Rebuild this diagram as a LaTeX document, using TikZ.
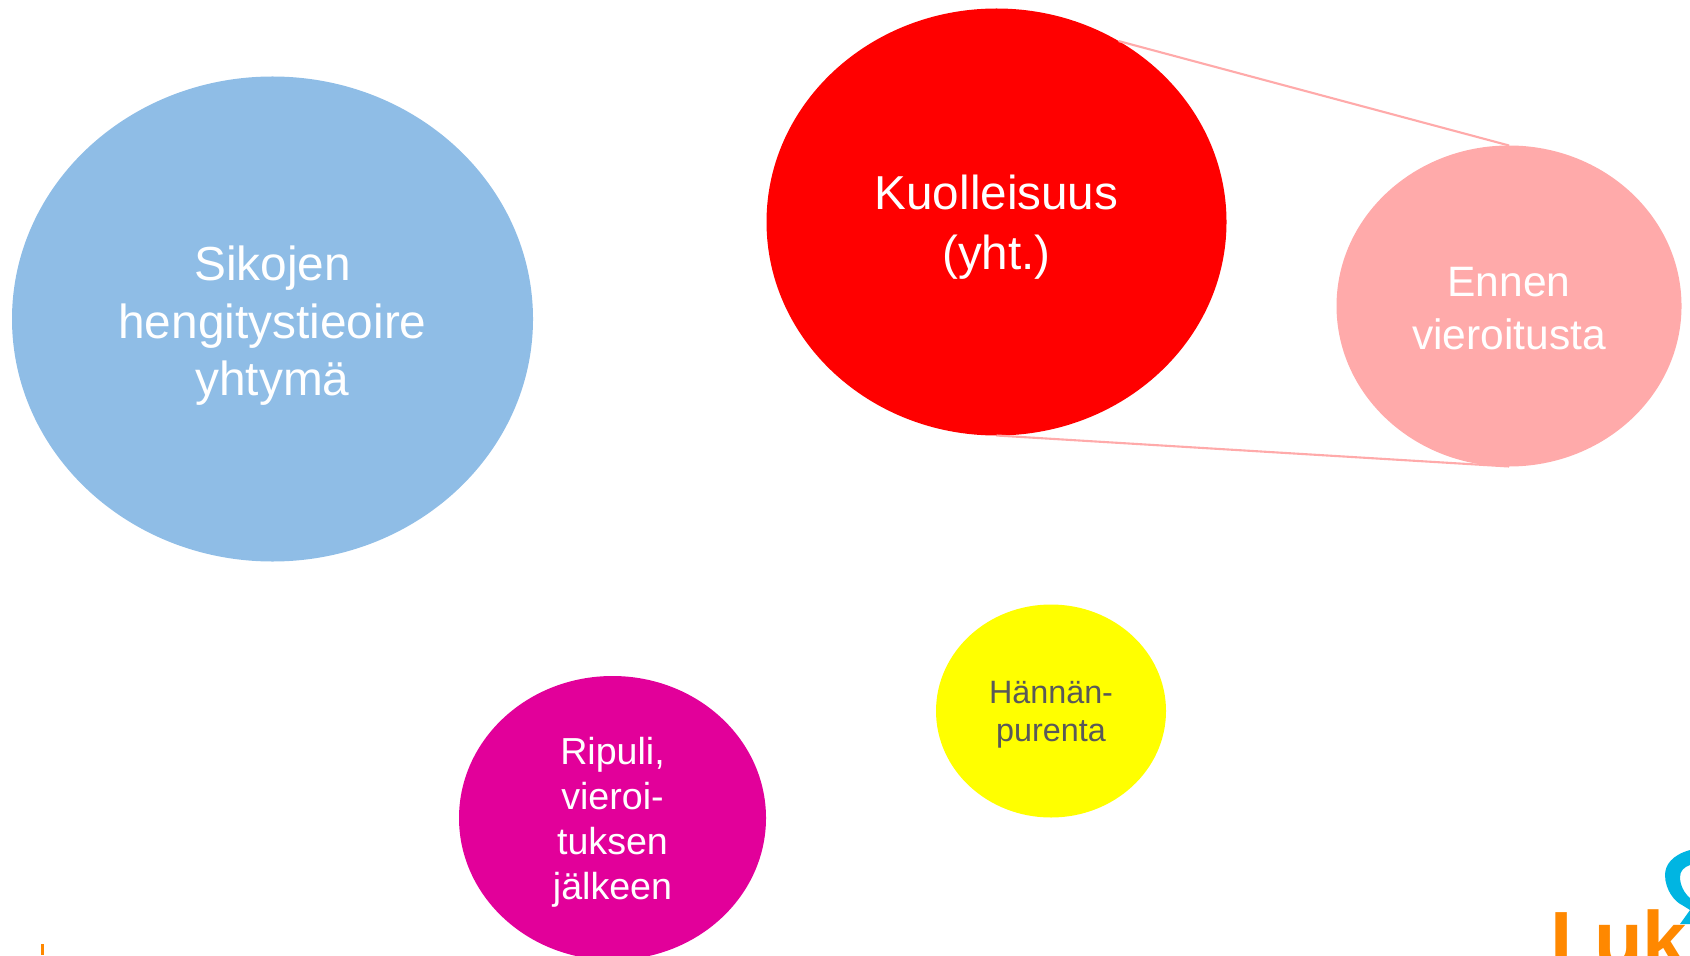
\documentclass[tikz,border=0pt]{standalone}
\usepackage{fontspec}
\setmainfont{Liberation Sans}
\usetikzlibrary{shapes.geometric}
\definecolor{sikoblue}{HTML}{8FBDE6}
\definecolor{kuolred}{HTML}{FF0000}
\definecolor{ennenpink}{HTML}{FFAAAA}
\definecolor{ripulimag}{HTML}{E2009A}
\definecolor{hantayellow}{HTML}{FFFF00}
\definecolor{hantatext}{HTML}{595959}
\definecolor{lukeorange}{HTML}{FF8800}
\definecolor{lukeblue}{HTML}{00B5E2}
\newcommand{\lowerby}[1]{\rule{0pt}{#1}}
\tikzset{
  bubble/.style = {ellipse, align = center, inner sep = 0pt, outer sep = 0pt, text = white},
  bigtext/.style = {font = \fontsize{13.6}{16.4}\selectfont},
  redtext/.style = {font = \fontsize{13.55}{17}\selectfont},
  midtext/.style = {font = \fontsize{12.1}{15}\selectfont},
  smalltext/.style = {font = \fontsize{10.7}{12.8}\selectfont},
  tinytext/.style = {font = \fontsize{9.2}{11}\selectfont}
}
\begin{document}
\begin{tikzpicture}
    \useasboundingbox (0, 0) rectangle (16.9, 9.55);
    \clip (0, 0) rectangle (16.9, 9.55);
    \node[bubble, bigtext, fill = sikoblue, minimum width = 5.21cm, minimum height = 4.85cm] (sikojen) at (2.725, 6.36) {\lowerby{13.7pt}Sikojen \\ hengitystieoire \\ yhtymä};
    \node[bubble, fill = kuolred, minimum width = 4.6cm, minimum height = 4.27cm, redtext] (kuolleisuus) at (9.965, 7.33) {\lowerby{12.8pt}Kuolleisuus \\ (yht.)};
    \node[bubble, fill = ennenpink, minimum width = 3.45cm, minimum height = 3.21cm, midtext] (ennen) at (15.09, 6.49) {\lowerby{9.9pt}Ennen \\ vieroitusta};
    \node[bubble, fill = ripulimag, minimum width = 3.07cm, minimum height = 2.84cm, smalltext] (ripuli) at (6.125, 1.37) {\lowerby{10pt}Ripuli, \\ vieroi- \\ tuksen \\ jälkeen};
    \node[bubble, fill = hantayellow, minimum width = 2.3cm, minimum height = 2.13cm, tinytext, text = hantatext] (hannan) at (10.51, 2.44) {\lowerby{8.5pt}Hännän- \\ purenta};
    \draw[ennenpink, line width = 0.6pt] (kuolleisuus.56) -- (ennen.north);
    \draw[ennenpink, line width = 0.6pt] (kuolleisuus.south) -- (ennen.south);
    \fill[lukeorange] (0.41, 0) rectangle (0.44, 0.11);
    \fill[lukeblue] (16.9, 1.05) .. controls (16.72, 1.0) and (16.65, 0.9) .. (16.65, 0.8) .. controls (16.65, 0.65) and (16.75, 0.53) .. (16.82, 0.5) -- (16.9, 0.45) -- (16.9, 0.57) .. controls (16.84, 0.62) and (16.8, 0.7) .. (16.8, 0.78) .. controls (16.8, 0.84) and (16.84, 0.88) .. (16.9, 0.9) -- cycle;
    \fill[lukeblue] (16.8, 0.31) -- (16.9, 0.45) -- (16.9, 0.31) -- cycle;
    \node[anchor = base west, inner sep = 0pt, text = lukeorange, font = \fontsize{22.7}{22.7}\bfseries\selectfont] (luke) at (15.5, -0.12) {L\kern-1.5ptuk};
\end{tikzpicture}
\end{document}
